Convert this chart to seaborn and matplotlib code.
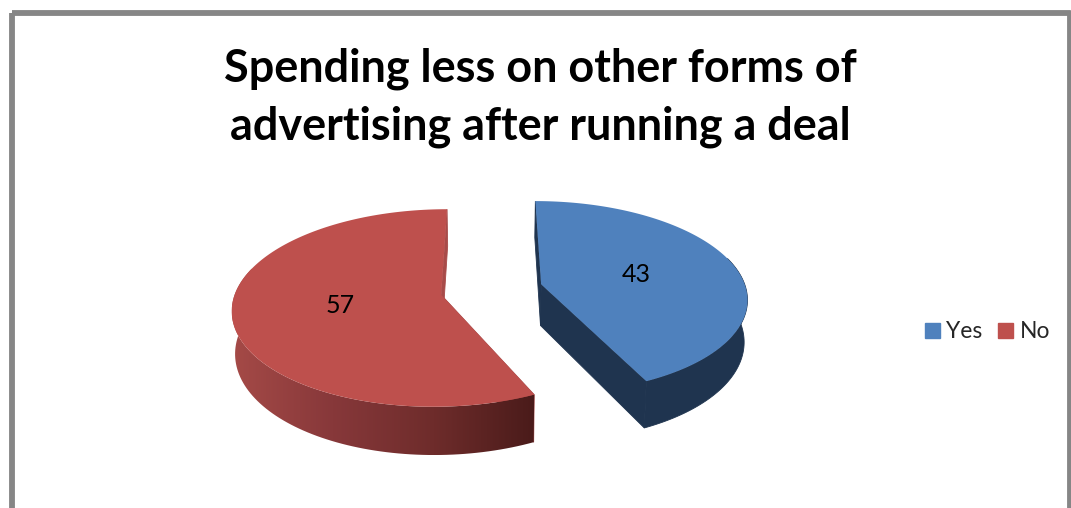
import numpy as np
import matplotlib
matplotlib.use("Agg")
import matplotlib.pyplot as plt
from matplotlib.patches import Patch, Polygon, Rectangle
import seaborn as sns

# Survey answers
categories = ["Yes", "No"]
values = [43, 57]
title_lines = ["Spending less on other forms of", "advertising after running a deal"]

top_colors = ["#4F81BD", "#BE504D"]
BLUE_SIDE = "#1F344F"
RED_CUT = "#A84B49"
RED_SIDE_RAMP = ["#A54A47", "#87383A", "#6E2C2B", "#4A1B1A"]

sns.set_theme(style="white")
plt.rcParams["font.family"] = ["Lato", "DejaVu Sans"]

# Perspective camera for the tilted pie, in pixel units
CX, CY = 491.5, 289.5
SCALE_X, SCALE_Y = 205.0, 95.6
PERSPECTIVE = 0.133
DEPTH = 41.5
BASE_SHRINK = 0.987
EXPLODE = 0.25


def project(x, y, base=False):
    w = 1 + PERSPECTIVE * y
    px = SCALE_X * x / w
    py = CY - SCALE_Y * y / w
    if base:
        return CX + px * BASE_SHRINK, py + DEPTH / w
    return CX + px, py


def wedge_world(start, sweep, n=140):
    """Outline of an exploded wedge; angles run clockwise from the back of the pie."""
    mid = np.radians(start + sweep / 2)
    ox, oy = EXPLODE * np.sin(mid), EXPLODE * np.cos(mid)
    t = np.radians(np.linspace(start, start + sweep, n))
    return ox, oy, ox + np.sin(t), oy + np.cos(t), np.cos(t)


fig = plt.figure(figsize=(10.71, 5.08), dpi=100, facecolor="white")
ax = fig.add_axes([0, 0, 1, 1])
ax.axis("off")

ax.add_patch(Rectangle((11.5, 13.3), 1058.5, 600, fill=False, ec="#868686",
                       lw=4.2, joinstyle="round"))

red_cmap = sns.blend_palette(RED_SIDE_RAMP, 256, as_cmap=True)

# Each wedge is drawn back to front: cut faces, front rim, then the top surface
shares = 360 * np.array(values) / np.sum(values)
starts = np.concatenate([[0], np.cumsum(shares)[:-1]])

for i, (start, sweep) in enumerate(zip(starts, shares)):
    ox, oy, arc_x, arc_y, facing = wedge_world(start, sweep)
    apex_top = project(ox, oy)
    apex_base = project(ox, oy, base=True)
    top_x, top_y = project(arc_x, arc_y)
    base_x, base_y = project(arc_x, arc_y, base=True)

    cut_color = BLUE_SIDE if i == 0 else RED_CUT
    for j in (0, -1):
        ax.fill([apex_top[0], top_x[j], base_x[j], apex_base[0]],
                [apex_top[1], top_y[j], base_y[j], apex_base[1]],
                color=cut_color, lw=0.6, zorder=2)

    front = facing < 0.3
    rim_x = np.r_[top_x[front], base_x[front][::-1]]
    rim_y = np.r_[top_y[front], base_y[front][::-1]]
    if i == 0:
        ax.fill(rim_x, rim_y, color=BLUE_SIDE, lw=0.6, zorder=3)
    else:
        shade = ax.imshow(np.linspace(0, 1, 256)[None, :], cmap=red_cmap, aspect="auto",
                          extent=(rim_x.min(), rim_x.max(), rim_y.max(), rim_y.min()),
                          zorder=3, interpolation="bilinear")
        shade.set_clip_path(Polygon(np.c_[rim_x, rim_y], transform=ax.transData))

    ax.fill(np.r_[apex_top[0], top_x], np.r_[apex_top[1], top_y],
            color=top_colors[i], lw=0, zorder=4)

    # Value label partway along the bisector
    mid = np.radians(start + sweep / 2)
    lx, ly = project(ox + 0.49 * np.sin(mid), oy + 0.49 * np.cos(mid))
    ax.text(lx, ly, str(values[i]), ha="center", va="center", fontsize=18,
            color="black", zorder=5)

ax.set_xlim(0, 1071)
ax.set_ylim(508, 0)

for line, baseline in zip(title_lines, [81, 139]):
    ax.text(540, baseline, line, ha="center", va="baseline", fontsize=32.4,
            fontweight="bold", color="black")

handles = [Patch(color=c, label=n) for c, n in zip(top_colors, categories)]
ax.legend(handles=handles, ncol=2, loc="center left", frameon=False,
          bbox_to_anchor=(925 / 1071, 1 - 332 / 508), fontsize=16.5,
          handlelength=0.65, handleheight=0.65, handletextpad=0.28,
          columnspacing=0.68, borderpad=0, borderaxespad=0)

fig.savefig("out.png", dpi=100, facecolor="white")
